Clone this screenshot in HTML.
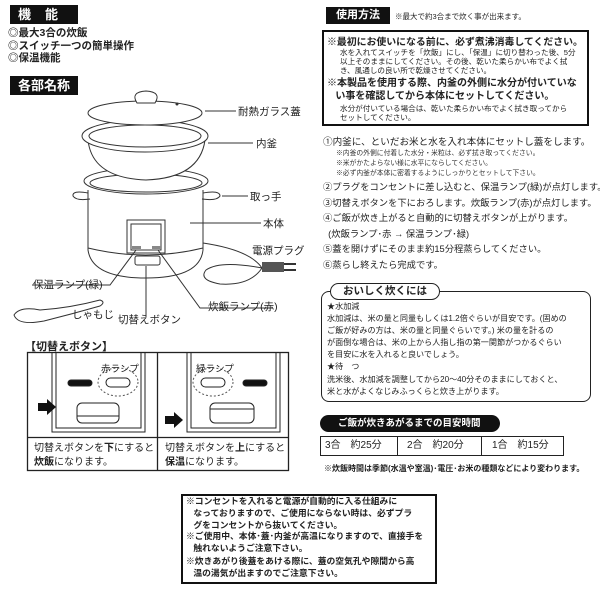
<!DOCTYPE html>
<html><head><meta charset="utf-8"><style>
*{margin:0;padding:0;box-sizing:border-box}
body{width:600px;height:589px;background:#fff;position:relative;overflow:hidden;font-family:"Liberation Sans","Noto Sans CJK JP",sans-serif;color:#222}
.a{position:absolute;white-space:nowrap}
.blk{background:#111;color:#fff;font-weight:bold}
.s{font-size:6.8px;color:#333}
.m{font-size:10.5px}
b{font-weight:bold}
</style></head><body>
<div class="a blk" style="left:10px;top:5px;width:68px;height:19px;font-size:13px;line-height:19px;padding-left:8px;letter-spacing:14px">機能</div>
<div class="a" style="left:8px;top:27px;font-size:10.5px;font-weight:bold;line-height:12.5px">◎最大3合の炊飯<br>◎スイッチ一つの簡単操作<br>◎保温機能</div>
<div class="a blk" style="left:10px;top:76px;width:68px;height:19px;font-size:13px;line-height:19px;text-align:center">各部名称</div>

<svg class="a" style="left:0;top:0" width="320" height="340" fill="none" stroke="#333" stroke-width="1">
<path d="M88 190 L88 250 Q92 278 146 278 Q200 278 203 250 L203 190"/>
<path d="M88 248 Q146 262 203 248"/>
<ellipse cx="146" cy="181" rx="62" ry="13" fill="#fff"/>
<ellipse cx="146" cy="183" rx="56" ry="9"/>
<path d="M88 193 Q72 190 73 196 Q76 201 90 199"/>
<path d="M203 193 Q220 190 220 196 Q217 201 202 199"/>
<path d="M88 140 Q92 178 146 180 Q200 178 205 140" fill="#fff"/>
<ellipse cx="145" cy="136" rx="63" ry="16" fill="#fff"/>
<ellipse cx="145" cy="136" rx="56" ry="11"/>
<ellipse cx="145" cy="113" rx="57" ry="12" fill="#fff"/>
<path d="M137 103 Q130 92 146 91 Q162 92 155 103 Z" fill="#fff"/>
<circle cx="177" cy="104" r="1" fill="#333"/>
<rect x="127" y="220" width="38" height="33" fill="#fff"/>
<rect x="131" y="224" width="30" height="26"/>
<rect x="132" y="246" width="9" height="3" fill="#888" stroke="none"/>
<rect x="152" y="246" width="9" height="3" fill="#888" stroke="none"/>
<rect x="135" y="256" width="25" height="9" rx="2"/>
<path d="M203 243 Q250 250 262 268 Q250 286 220 284 Q198 280 206 270 Q220 260 262 268 L285 270"/>
<rect x="262" y="262" width="22" height="10" fill="#555" stroke="none"/>
<path d="M284 264 L296 264 M284 270 L296 270" stroke-width="2"/>
<path d="M14 315 Q20 306 40 310 Q70 308 100 300 Q106 302 100 306 Q72 314 44 321 Q18 326 14 315 Z" fill="#fff"/>
<path d="M205 111 L236 111 M208 143 L253 143 M222 196 L248 196 M190 223 L261 223"/>
<path d="M136 250 L110 285 L32 285"/>
<path d="M146 266 L146 317"/>
<path d="M158 250 L200 308 L272 308"/>
</svg>
<div class="a m" style="left:238px;top:104px">耐熱ガラス蓋</div>
<div class="a m" style="left:256px;top:136px">内釜</div>
<div class="a m" style="left:250px;top:189px">取っ手</div>
<div class="a m" style="left:263px;top:216px">本体</div>
<div class="a m" style="left:252px;top:243px">電源プラグ</div>
<div class="a m" style="left:33px;top:277px">保温ランプ(緑)</div>
<div class="a m" style="left:72px;top:307px">しゃもじ</div>
<div class="a m" style="left:118px;top:312px">切替えボタン</div>
<div class="a m" style="left:208px;top:299px">炊飯ランプ(赤)</div>

<div class="a" style="left:25px;top:338px;font-size:11px;font-weight:bold">【切替えボタン】</div>
<svg class="a" style="left:0;top:330px" width="300" height="150" fill="none" stroke="#222">
<rect x="27.5" y="22.5" width="261" height="118" stroke-width="1.3"/>
<line x1="157.5" y1="22" x2="157.5" y2="141" stroke-width="1.3"/>
<line x1="27" y1="107.5" x2="289" y2="107.5" stroke-width="1.3"/>
<path d="M52 22 L52 102 L145 102 L145 22 M56 22 L56 98 L141 98 L141 22"/>
<path d="M187 22 L187 102 L280 102 L280 22 M191 22 L191 98 L276 98 L276 22"/>
<rect x="68" y="50" width="24" height="6" rx="3" fill="#111"/>
<rect x="106" y="48" width="24" height="9" rx="4.5"/>
<rect x="77" y="73" width="42" height="20" rx="5"/><line x1="77" y1="86" x2="119" y2="86"/>
<rect x="243" y="50" width="24" height="6" rx="3" fill="#111"/>
<rect x="201" y="48" width="24" height="9" rx="4.5"/>
<rect x="210" y="73" width="44" height="20" rx="5"/><line x1="210" y1="79" x2="254" y2="79"/>
<g stroke="#555" stroke-dasharray="2 2"><ellipse cx="118" cy="52" rx="20" ry="14"/><ellipse cx="213" cy="52" rx="20" ry="14"/></g>
<path d="M38 73 L47 73 L47 69 L56 77 L47 85 L47 81 L38 81 Z" fill="#111" stroke="none"/>
<path d="M165 86 L174 86 L174 82 L183 90 L174 98 L174 94 L165 94 Z" fill="#111" stroke="none"/>
</svg>
<div class="a" style="left:101px;top:361px;font-size:9.5px">赤ランプ</div>
<div class="a" style="left:196px;top:361px;font-size:9.5px">緑ランプ</div>
<div class="a" style="left:34px;top:442px;font-size:10px;line-height:14px">切替えボタンを<b>下</b>にすると<br><b>炊飯</b>になります。</div>
<div class="a" style="left:165px;top:442px;font-size:10px;line-height:14px">切替えボタンを<b>上</b>にすると<br><b>保温</b>になります。</div>

<div class="a blk" style="left:326px;top:7px;width:64px;height:17px;font-size:11px;line-height:17px;text-align:center">使用方法</div>
<div class="a" style="left:395px;top:11px;font-size:7.5px">※最大で約3合まで炊く事が出来ます。</div>
<div class="a" style="left:322px;top:30px;width:267px;height:96px;border:2.5px solid #111"></div>
<div class="a" style="left:327px;top:34px;font-size:9.9px;font-weight:bold">※最初にお使いになる前に、必ず煮沸消毒してください。</div>
<div class="a" style="left:340px;top:48px;font-size:7.6px;line-height:9px">水を入れてスイッチを「炊飯」にし、「保温」に切り替わった後、5分<br>以上そのままにしてください。その後、乾いた柔らかい布でよく拭<br>き、風通しの良い所で乾燥させてください。</div>
<div class="a" style="left:327px;top:77px;font-size:10px;font-weight:bold;line-height:13px">※本製品を使用する際、内釜の外側に水分が付いていな<br>&nbsp;&nbsp;&nbsp;い事を確認してから本体にセットしてください。</div>
<div class="a" style="left:340px;top:104px;font-size:7.6px;line-height:9px">水分が付いている場合は、乾いた柔らかい布でよく拭き取ってから<br>セットしてください。</div>
<div class="a" style="left:323px;top:134px;font-size:9.6px">①内釜に、といだお米と水を入れ本体にセットし蓋をします。</div>
<div class="a s" style="left:336px;top:149px;line-height:10px">※内釜の外側に付着した水分・米粒は、必ず拭き取ってください。<br>※米がかたよらない様に水平にならしてください。<br>※必ず内釜が本体に密着するようにしっかりとセットして下さい。</div>
<div class="a" style="left:323px;top:180px;font-size:9.3px;line-height:15.5px">②プラグをコンセントに差し込むと、保温ランプ(緑)が点灯します。<br>③切替えボタンを下におろします。炊飯ランプ(赤)が点灯します。<br>④ご飯が炊き上がると自動的に切替えボタンが上がります。<br>&nbsp;&nbsp;(炊飯ランプ･赤 → 保温ランプ･緑)<br>⑤蓋を開けずにそのまま約15分程蒸らしてください。<br>⑥蒸らし終えたら完成です。</div>

<div class="a" style="left:321px;top:291px;width:270px;height:111px;border:1.5px solid #222;border-radius:8px"></div>
<div class="a" style="left:330px;top:283px;height:17px;padding:0 12px;border:1.5px solid #222;border-radius:9px;background:#fff;font-size:10.5px;font-weight:bold;line-height:14px">おいしく炊くには</div>
<div class="a" style="left:327px;top:301px;font-size:8.1px;line-height:12.1px">★水加減<br>水加減は、米の量と同量もしくは1.2倍ぐらいが目安です。(固めの<br>ご飯が好みの方は、米の量と同量ぐらいです。) 米の量を計るの<br>が面倒な場合は、米の上から人指し指の第一関節がつかるぐらい<br>を目安に水を入れると良いでしょう。<br>★待　つ<br>洗米後、水加減を調整してから20〜40分そのままにしておくと、<br>米と水がよくなじみふっくらと炊き上がります。</div>

<div class="a blk" style="left:320px;top:415px;width:180px;height:17px;border-radius:9px;font-size:9.5px;line-height:17px;padding-left:18px">ご飯が炊きあがるまでの目安時間</div>
<div class="a" style="left:320px;top:436px;width:244px;height:20px;border:1.3px solid #222;display:flex;font-size:10px;line-height:18px">
<div style="width:77px;border-right:1.3px solid #222;padding-left:4px">3合　約25分</div>
<div style="width:84px;border-right:1.3px solid #222;padding-left:9px">2合　約20分</div>
<div style="flex:1;padding-left:10px">1合　約15分</div></div>
<div class="a" style="left:324px;top:463px;font-size:8px;font-weight:bold">※炊飯時間は季節(水温や室温)･電圧･お米の種類などにより変わります。</div>

<div class="a" style="left:181px;top:494px;width:256px;height:90px;border:2px solid #111"></div>
<div class="a" style="left:186px;top:496px;font-size:8.8px;font-weight:bold;line-height:11.8px">※コンセントを入れると電源が自動的に入る仕組みに<br>&nbsp;&nbsp;&nbsp;なっておりますので、ご使用にならない時は、必ずプラ<br>&nbsp;&nbsp;&nbsp;グをコンセントから抜いてください。<br>※ご使用中、本体･蓋･内釜が高温になりますので、直接手を<br>&nbsp;&nbsp;&nbsp;触れないようご注意下さい。</div>
<div class="a" style="left:186px;top:556px;font-size:8.8px;font-weight:bold;line-height:11.8px">※炊きあがり後蓋をあける際に、蓋の空気孔や隙間から高<br>&nbsp;&nbsp;&nbsp;温の湯気が出ますのでご注意下さい。</div>
</body></html>
